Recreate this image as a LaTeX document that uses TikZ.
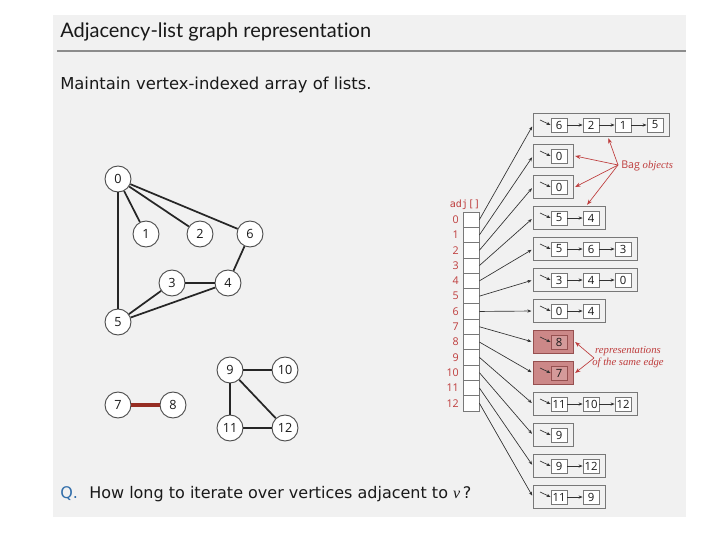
\documentclass[tikz,border=0pt]{standalone}
\usepackage{fontspec}
\setmainfont{DejaVu Sans}
\newfontfamily\titlefont[Ligatures={NoCommon}]{Lato}
\newfontfamily\labfont{Open Sans}
\newfontfamily\serifit{Liberation Serif}
\newfontfamily\monof{DejaVu Sans Mono}
\usetikzlibrary{arrows.meta}
\definecolor{bggray}{RGB}{241,241,241}
\definecolor{redtxt}{RGB}{190,60,60}
\definecolor{boxgray}{RGB}{120,120,120}
\definecolor{arrgray}{RGB}{50,50,50}
\definecolor{redfill}{RGB}{204,136,136}
\definecolor{redline}{RGB}{150,80,80}
\definecolor{edgered}{RGB}{150,45,35}
\definecolor{qblue}{RGB}{50,110,170}
\definecolor{txt}{RGB}{25,25,25}
\begin{document}
\begin{tikzpicture}[x=0.75pt,y=-0.75pt,
  vtx/.style={circle,draw=black!70,line width=0.7pt,fill=white,minimum size=19.5pt,inner sep=0pt,font=\labfont\fontsize{9.5}{10}\selectfont,text=txt},
  gedge/.style={line width=1.3pt,black!85},
  lbox/.style={draw=boxgray,line width=0.6pt,fill=bggray,minimum height=17.25pt,inner sep=0pt,anchor=west},
  rbox/.style={draw=redline,line width=0.6pt,fill=redfill,minimum height=17.25pt,inner sep=0pt,anchor=west},
  ibox/.style={draw=boxgray,line width=0.6pt,fill=white,minimum width=12pt,minimum height=10.5pt,inner sep=0pt,font=\labfont\fontsize{8.5}{9}\selectfont,text=txt},
  ribox/.style={draw=redline,line width=0.6pt,fill=redfill!85!white,minimum width=12pt,minimum height=10.5pt,inner sep=0pt,font=\labfont\fontsize{8.5}{9}\selectfont,text=txt},
  cellbox/.style={draw=boxgray,line width=0.6pt,fill=white,minimum width=12pt,minimum height=11.475pt,inner sep=0pt},
  larr/.style={-{Stealth[length=3pt,width=2.4pt]},arrgray,line width=0.5pt},
  redarr/.style={-{Stealth[length=4pt,width=3pt]},redtxt,line width=0.5pt},
  idxlbl/.style={anchor=east,text=redtxt,font=\labfont\fontsize{8}{8}\selectfont,inner sep=0pt}
]
\useasboundingbox (0,0) rectangle (720,540);
\fill[white] (0,0) rectangle (720,540);
\fill[bggray] (53,15) rectangle (686,517);

% header
\node[anchor=base west,inner sep=0pt,text=txt,font=\titlefont\fontsize{15}{18}\selectfont] (title) at (60,37) {Adjacency-list graph representation};
\coordinate (hl) at (57,51);
\coordinate (hr) at (686,51);
\draw[black!45,line width=0.8pt] (hl) -- (hr);
\node[anchor=base west,inner sep=0pt,text=txt,font=\fontsize{12.3}{14}\selectfont] (maint) at (60,89) {Maintain vertex-indexed array of lists.};

% graph
\node[vtx] (v0) at (118,179) {0};
\node[vtx] (v1) at (146,234) {1};
\node[vtx] (v2) at (200,234) {2};
\node[vtx] (v6) at (250,234) {6};
\node[vtx] (v3) at (172,283) {3};
\node[vtx] (v4) at (228,283) {4};
\node[vtx] (v5) at (118,322) {5};
\node[vtx] (v7) at (118,405) {7};
\node[vtx] (v8) at (173,405) {8};
\node[vtx] (v9) at (230,370) {9};
\node[vtx] (v10) at (285,370) {10};
\node[vtx] (v11) at (230,428) {11};
\node[vtx] (v12) at (285,428) {12};
\foreach \a/\b in {v0/v1,v0/v2,v0/v6,v0/v5,v6/v4,v3/v4,v3/v5,v4/v5,v9/v10,v9/v11,v9/v12,v11/v12}
  \draw[gedge] (\a) -- (\b);
\draw[edgered,line width=3pt] (v7) -- (v8);

% array
\node[text=redtxt,inner sep=0pt,font=\monof\fontsize{7.5}{8}\selectfont] (adjl) at (465,205) {adj[]};
\foreach \i in {0,...,12}{
  \node[cellbox] (c\i) at (471,{212+15.3*(\i+0.5)}) {};
  \node[idxlbl] (l\i) at (459,{212+15.3*(\i+0.5)}) {\i};
}

% lists
\foreach \r/\n/\items/\bs/\is in {0/4/{6,2,1,5}/lbox/ibox,1/1/{0}/lbox/ibox,2/1/{0}/lbox/ibox,3/2/{5,4}/lbox/ibox,4/3/{5,6,3}/lbox/ibox,5/3/{3,4,0}/lbox/ibox,6/2/{0,4}/lbox/ibox,7/1/{8}/rbox/ribox,8/1/{7}/rbox/ribox,9/3/{11,10,12}/lbox/ibox,10/1/{9}/lbox/ibox,11/2/{9,12}/lbox/ibox,12/2/{11,9}/lbox/ibox}{
  \node[\bs,minimum width={(8+32*\n)*0.75pt}] (r\r) at (533,{125+31*\r}) {};
  \foreach \v [count=\k from 0] in \items {
    \node[\is] (r\r-\k) at ({559+32*\k},{125+31*\r}) {\v};
    \ifnum\k>0
      \pgfmathtruncatemacro\km{\k-1}
      \draw[larr] (r\r-\km) -- (r\r-\k);
    \fi
  }
  \draw[larr] ([shift={(7,-5)}]r\r.west) -- (r\r-0.west);
  \draw[larr,shorten >=1.2pt] (c\r.east) -- (r\r.west);
}

% Bag objects annotation
\node[anchor=west,inner sep=0pt,text=redtxt,font=\labfont\fontsize{8}{9}\selectfont] (bag) at (621,166) {Bag\ {\serifit\itshape objects}};
\coordinate (bagpt) at (618,165);
\draw[redarr] (bagpt) -- ([xshift=5.25pt,yshift=-1pt]r0.south);
\draw[redarr] (bagpt) -- ([xshift=1pt]r1.east);
\draw[redarr] (bagpt) -- ([xshift=1pt]r2.east);
\draw[redarr] (bagpt) -- ([xshift=-14pt,yshift=1pt]r3.north east);

% same edge annotation
\node[align=center,inner sep=0pt,text=redtxt,font=\serifit\itshape\fontsize{8}{8.5}\selectfont] (rep) at (628,357) {representations\\of the same edge};
\coordinate (reppt) at (594,358);
\draw[redarr] (reppt) -- ([xshift=1pt]r7.east);
\draw[redarr] (reppt) -- ([xshift=1pt]r8.east);

% question
\node[anchor=base west,inner sep=0pt,text=qblue,font=\fontsize{12}{14}\selectfont] (q) at (60,498) {Q.};
\node[anchor=base west,inner sep=0pt,text=txt,font=\fontsize{12}{14}\selectfont] (qt) at (89,498) {How long to iterate over vertices adjacent to {\serifit\itshape v}\,?};
\end{tikzpicture}
\end{document}
